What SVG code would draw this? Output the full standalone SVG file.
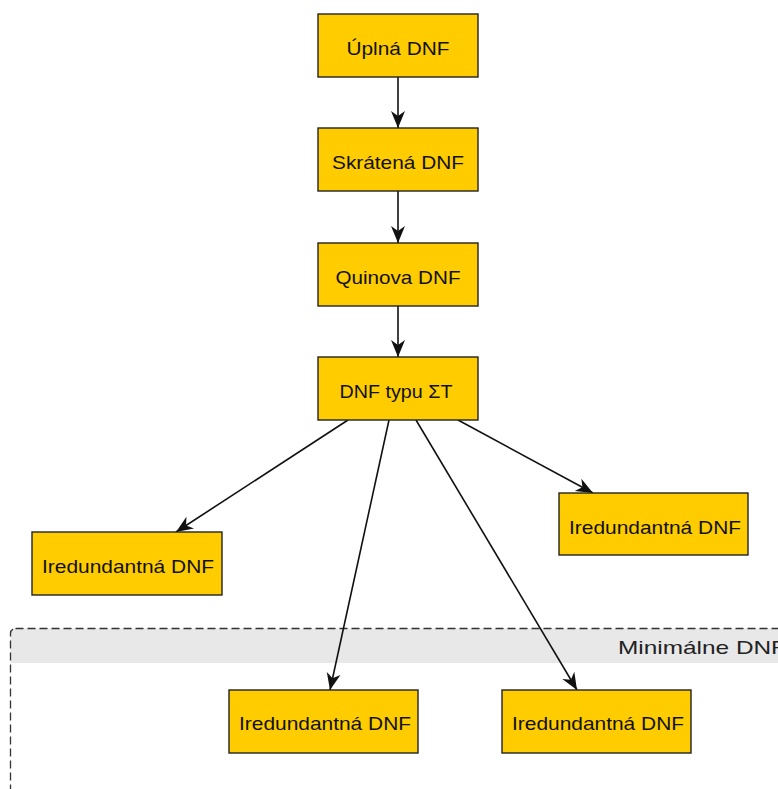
<svg xmlns="http://www.w3.org/2000/svg" width="778" height="789" viewBox="0 0 778 789">
  <style>
    .box { fill: #ffcc00; stroke: #222; stroke-width: 1.4; }
    .lbl { font-family: "Liberation Sans", Arial, sans-serif; font-size: 18.5px; fill: #111; text-anchor: middle; }
    .edge { stroke: #111; stroke-width: 1.6; fill: none; marker-end: url(#arr); }
  </style>
  <defs>
    <marker id="arr" markerUnits="userSpaceOnUse" markerWidth="20" markerHeight="16" viewBox="-18 -8 20 16" refX="0" refY="0" orient="auto">
      <path d="M0,0 L-17,-7 L-12,0 L-17,7 Z" fill="#111"/>
    </marker>
  </defs>
  <rect width="778" height="789" fill="#ffffff"/>

  <g id="container-minimalne">
    <path d="M10.5,663 L10.5,633 Q10.5,628.5 15,628.5 L800,628.5 L800,663 Z" fill="#e8e8e8"/>
    <rect x="10.5" y="628.5" width="800" height="200" rx="5" fill="none" stroke="#333" stroke-width="1.3" stroke-dasharray="8 4"/>
    <text x="618" y="654" font-family="Liberation Sans, Arial, sans-serif" font-size="19" fill="#222" textLength="168" lengthAdjust="spacingAndGlyphs">Minimálne DNF</text>
  </g>

  <g id="connectors">
    <line class="edge" x1="398" y1="77" x2="398" y2="128"/>
    <line class="edge" x1="398" y1="191" x2="398" y2="243"/>
    <line class="edge" x1="398" y1="306" x2="398" y2="357"/>
    <line class="edge" x1="348" y1="420" x2="176" y2="532"/>
    <line class="edge" x1="389" y1="420" x2="330" y2="690"/>
    <line class="edge" x1="416" y1="420" x2="577" y2="690"/>
    <line class="edge" x1="458" y1="420" x2="593" y2="493"/>
  </g>

  <g id="n1">
    <rect class="box" x="318" y="14" width="160" height="63"/>
    <text class="lbl" x="398" y="55" textLength="103" lengthAdjust="spacingAndGlyphs">Úplná DNF</text>
  </g>
  <g id="n2">
    <rect class="box" x="318" y="128" width="160" height="63"/>
    <text class="lbl" x="398" y="169" textLength="132" lengthAdjust="spacingAndGlyphs">Skrátená DNF</text>
  </g>
  <g id="n3">
    <rect class="box" x="318" y="243" width="160" height="63"/>
    <text class="lbl" x="398" y="284" textLength="125" lengthAdjust="spacingAndGlyphs">Quinova DNF</text>
  </g>
  <g id="n4">
    <rect class="box" x="318" y="357" width="160" height="63"/>
    <text class="lbl" x="396" y="398" textLength="113" lengthAdjust="spacingAndGlyphs">DNF typu ΣT</text>
  </g>
  <g id="n5">
    <rect class="box" x="32" y="532" width="190" height="63"/>
    <text class="lbl" x="128" y="573" textLength="172" lengthAdjust="spacingAndGlyphs">Iredundantná DNF</text>
  </g>
  <g id="n6">
    <rect class="box" x="559" y="493" width="189" height="62"/>
    <text class="lbl" x="655" y="534" textLength="172" lengthAdjust="spacingAndGlyphs">Iredundantná DNF</text>
  </g>
  <g id="n7">
    <rect class="box" x="229" y="690" width="189" height="63"/>
    <text class="lbl" x="325" y="730" textLength="172" lengthAdjust="spacingAndGlyphs">Iredundantná DNF</text>
  </g>
  <g id="n8">
    <rect class="box" x="502" y="690" width="189" height="63"/>
    <text class="lbl" x="598" y="730" textLength="172" lengthAdjust="spacingAndGlyphs">Iredundantná DNF</text>
  </g>
</svg>
